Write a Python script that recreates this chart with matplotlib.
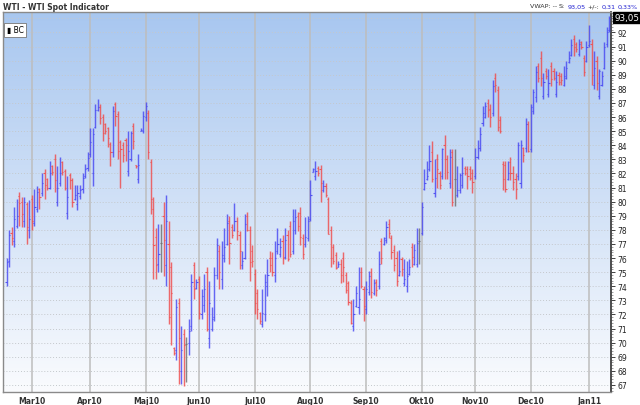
import numpy as np
import pandas as pd
import matplotlib
matplotlib.use('Agg')
import matplotlib.pyplot as plt
from matplotlib.ticker import MultipleLocator

# month labels on the time axis (Danish/Norwegian style)
month_labels = ['Mar10', 'Apr10', 'Maj10', 'Jun10', 'Jul10', 'Aug10',
                'Sep10', 'Okt10', 'Nov10', 'Dec10', 'Jan11']

# daily OHLC, one line per month (Feb 15 2010 .. Jan 13 2011)
open_ = [
    74.3, 75.8, 77.8, 77.2, 78.3, 80.4, 80.0, 78.6, 79.8, 78.0,
    80.2, 78.5, 79.5, 80.9, 80.6, 82.0, 81.6, 81.0, 82.5, 83.0, 80.0, 81.3, 82.8, 82.2, 79.2, 81.9, 81.5, 80.2, 79.8, 80.4, 80.9, 81.8, 82.4,
    83.4, 82.0, 85.3, 86.5, 86.7, 86.0, 85.5, 85.2, 84.1, 83.5, 86.9, 86.2, 84.2, 84.0, 84.4, 82.2, 83.0, 85.4, 82.6, 81.6, 85.0, 85.0,
    86.0, 86.3, 82.8, 79.5, 77.5, 75.6, 77.1, 79.0, 75.5, 77.0, 75.4, 69.6, 69.5, 72.8, 68.0, 70.6, 69.9, 70.0, 71.2, 75.5, 73.9,
    74.5, 72.0, 72.7, 75.0, 70.3, 71.0, 71.8, 74.8, 76.5, 74.5, 76.0, 77.0, 78.6, 78.2, 78.0, 78.6, 77.6, 75.5, 76.0, 79.0, 78.0, 76.5,
    74.9, 73.5, 72.1, 71.3, 72.0, 74.0, 76.0, 76.0, 74.8, 76.5, 76.3, 77.2, 76.1, 77.6, 78.3, 76.5, 78.0, 79.0, 79.2, 77.4, 77.0, 77.4,
    78.8, 82.1, 81.8, 82.4, 82.3, 80.8, 81.1, 80.2, 78.0, 76.8, 76.2, 75.4, 75.6, 76.0, 74.8, 74.2, 72.8, 71.2, 72.6, 72.5, 75.0, 73.8,
    72.4, 73.6, 75.0, 73.5, 74.3, 74.0, 77.2, 77.0, 77.3, 78.4, 77.4, 76.6, 76.0, 74.8, 75.9, 74.2, 74.0, 74.9, 76.8, 75.6, 75.6, 77.2,
    77.8, 80.9, 81.6, 82.3, 83.5, 80.6, 83.0, 82.0, 81.8, 84.0, 83.0, 81.3, 83.5, 81.6, 80.5, 80.8, 81.2, 82.4, 82.3, 82.3, 82.0,
    81.8, 83.2, 83.8, 85.6, 86.0, 87.0, 86.6, 86.3, 88.8, 87.9, 85.8, 82.7, 82.6, 81.6, 82.8, 82.0, 81.6, 81.8, 81.3, 83.8, 83.8, 85.5,
    83.7, 86.4, 87.4, 89.6, 90.2, 87.5, 89.3, 87.6, 89.6, 89.3, 87.6, 89.0, 88.9, 88.3, 88.8, 89.9, 90.4, 91.5, 91.2, 90.5, 91.3, 90.2, 90.0,
    91.1, 91.2, 88.3, 90.0, 87.5, 88.3, 89.5, 91.2, 92.2,
]
high = [
    76.0, 78.0, 78.2, 79.6, 80.2, 80.7, 80.3, 80.3, 80.0, 80.1,
    80.5, 80.9, 81.1, 81.0, 82.0, 82.3, 81.7, 82.9, 82.6, 83.4, 82.5, 83.2, 82.9, 82.3, 81.8, 82.0, 81.7, 81.2, 81.2, 81.2, 82.0, 82.7, 83.5,
    85.2, 85.2, 86.9, 87.3, 86.9, 86.2, 85.6, 85.3, 84.2, 86.8, 87.1, 86.4, 84.4, 84.2, 84.5, 85.0, 85.0, 85.6, 82.6, 83.4, 85.2, 86.4,
    87.1, 86.5, 83.0, 80.3, 78.1, 78.4, 78.4, 80.0, 80.5, 78.6, 75.7, 69.7, 73.1, 73.2, 71.2, 71.0, 70.4, 71.7, 74.9, 75.7, 74.5,
    74.7, 73.8, 74.9, 75.4, 74.4, 72.5, 75.4, 77.4, 76.9, 77.2, 78.1, 79.1, 79.0, 78.4, 79.9, 78.9, 77.9, 76.5, 79.1, 79.3, 78.3, 76.9,
    75.2, 73.8, 72.2, 73.8, 74.9, 75.9, 76.5, 76.4, 77.2, 78.1, 77.4, 77.6, 78.1, 78.0, 78.6, 79.5, 79.5, 79.3, 79.6, 77.7, 78.9, 79.0,
    81.5, 82.4, 82.9, 82.5, 82.6, 81.5, 81.3, 80.3, 78.3, 77.0, 76.4, 75.8, 75.9, 76.4, 75.0, 74.4, 73.0, 73.1, 74.0, 75.4, 75.4, 74.0,
    74.4, 75.1, 75.3, 74.5, 74.5, 76.5, 77.4, 77.5, 78.6, 78.8, 77.6, 76.9, 76.5, 76.6, 76.1, 75.9, 75.8, 75.9, 77.1, 77.0, 78.1, 78.1,
    80.0, 82.3, 82.9, 84.0, 84.3, 83.0, 83.4, 82.2, 83.8, 84.7, 83.3, 83.7, 83.7, 83.7, 82.5, 82.0, 83.2, 82.5, 82.5, 82.5, 82.3,
    83.8, 84.4, 85.3, 86.8, 87.1, 87.3, 86.9, 88.6, 89.1, 88.2, 86.1, 82.9, 82.9, 82.9, 83.2, 82.5, 82.0, 84.2, 84.4, 83.9, 85.9, 85.7,
    86.9, 88.0, 89.6, 89.8, 90.7, 89.1, 89.5, 89.4, 89.9, 89.5, 89.3, 89.2, 89.1, 89.6, 90.0, 90.7, 91.5, 91.8, 91.3, 91.5, 91.4, 90.4, 91.4,
    92.5, 91.5, 90.7, 90.3, 89.4, 89.3, 91.3, 92.4, 93.2,
]
low = [
    74.0, 75.4, 76.9, 76.8, 78.1, 78.3, 78.2, 78.2, 77.0, 77.4,
    78.0, 78.3, 79.3, 79.5, 80.4, 80.2, 80.8, 80.9, 81.9, 80.7, 79.7, 81.1, 81.9, 80.8, 78.8, 80.9, 79.6, 80.1, 79.4, 80.2, 80.6, 81.7, 82.2,
    83.2, 81.1, 85.2, 86.4, 85.5, 84.3, 84.8, 83.9, 82.5, 83.2, 85.4, 83.0, 81.0, 82.8, 82.9, 81.8, 82.9, 83.7, 82.4, 81.3, 85.0, 84.9,
    85.7, 83.0, 79.1, 74.5, 74.5, 75.0, 75.0, 74.7, 74.0, 71.3, 69.8, 69.1, 68.8, 67.1, 67.1, 66.9, 67.2, 69.1, 70.8, 73.1, 73.8,
    71.7, 71.7, 72.2, 70.8, 69.6, 70.8, 71.5, 74.5, 73.8, 73.8, 75.7, 76.9, 75.6, 77.4, 77.9, 77.3, 75.2, 75.2, 75.9, 77.9, 74.4, 75.4,
    72.0, 71.7, 71.3, 71.1, 71.5, 73.3, 75.0, 74.7, 74.3, 76.3, 76.1, 75.6, 75.9, 75.8, 76.1, 76.3, 77.7, 77.9, 76.9, 75.9, 76.8, 77.2,
    78.6, 82.1, 81.5, 81.8, 80.0, 80.7, 80.3, 77.7, 75.4, 75.6, 75.2, 75.4, 74.2, 74.3, 73.5, 72.7, 71.3, 70.8, 72.5, 72.0, 73.9, 71.5,
    72.0, 73.4, 73.2, 73.4, 73.3, 73.8, 75.6, 76.9, 77.1, 77.4, 75.9, 75.1, 74.0, 74.7, 74.7, 74.0, 73.6, 74.8, 75.4, 75.5, 75.4, 75.6,
    77.6, 80.8, 81.5, 82.2, 81.4, 80.3, 81.0, 80.9, 81.6, 81.6, 81.6, 81.0, 79.7, 79.7, 80.3, 80.6, 81.0, 81.9, 80.9, 81.5, 80.6,
    81.6, 83.0, 83.6, 85.4, 85.9, 86.0, 85.3, 86.1, 87.8, 85.0, 84.9, 80.8, 80.7, 81.5, 81.5, 80.8, 80.2, 81.5, 81.0, 82.8, 83.5, 83.5,
    83.5, 86.2, 87.1, 88.5, 88.2, 87.3, 88.7, 87.4, 88.2, 88.6, 87.4, 88.3, 88.3, 88.2, 88.7, 89.8, 90.3, 90.3, 90.6, 90.3, 90.8, 88.9, 89.9,
    91.0, 88.3, 88.0, 87.9, 87.3, 88.2, 89.4, 91.0, 92.0,
]
close = [
    75.7, 77.6, 77.4, 78.8, 79.0, 79.9, 79.1, 80.0, 78.2, 78.8,
    78.6, 79.6, 80.7, 80.3, 81.3, 81.2, 81.0, 82.0, 82.1, 81.5, 81.0, 82.0, 82.1, 81.0, 80.3, 81.5, 80.0, 80.5, 80.6, 80.8, 81.7, 82.3, 83.1,
    84.2, 84.8, 86.5, 86.7, 85.9, 84.9, 85.0, 84.5, 83.5, 86.4, 86.1, 83.6, 83.7, 83.3, 84.0, 83.6, 84.9, 84.3, 82.5, 82.6, 85.1, 86.1,
    86.8, 83.5, 80.2, 76.9, 75.5, 76.3, 77.1, 77.3, 78.6, 71.8, 73.5, 69.3, 72.5, 70.3, 69.5, 69.8, 69.9, 70.8, 74.3, 73.8, 74.3,
    72.1, 73.3, 73.8, 71.0, 72.8, 71.7, 74.8, 76.9, 75.0, 76.2, 76.8, 78.5, 77.1, 77.6, 78.6, 77.9, 76.5, 75.8, 78.4, 78.0, 75.7, 75.8,
    72.8, 72.4, 71.5, 72.1, 74.3, 74.8, 75.5, 75.0, 76.0, 77.0, 76.8, 76.0, 77.3, 75.9, 76.3, 78.6, 78.9, 78.3, 77.5, 76.3, 77.5, 78.6,
    80.5, 82.3, 82.2, 82.0, 81.3, 81.1, 80.5, 77.7, 76.0, 75.8, 75.3, 75.6, 74.8, 75.4, 73.7, 72.9, 71.4, 72.0, 73.5, 73.1, 74.0, 72.6,
    73.8, 74.7, 73.6, 74.2, 73.7, 75.6, 76.0, 77.4, 78.2, 77.8, 76.4, 75.5, 74.4, 75.1, 75.2, 74.5, 74.7, 75.4, 76.1, 76.6, 77.1, 77.2,
    79.6, 81.3, 81.8, 82.9, 81.6, 81.7, 82.3, 81.2, 83.7, 83.0, 82.1, 83.2, 80.0, 81.6, 80.8, 81.9, 82.0, 82.0, 81.8, 81.7, 81.4,
    83.2, 83.8, 84.8, 86.3, 86.8, 86.5, 86.0, 88.2, 88.3, 85.3, 85.0, 81.6, 80.9, 82.0, 82.0, 81.4, 80.9, 84.0, 84.0, 83.3, 85.5, 83.6,
    86.7, 87.8, 89.2, 88.8, 88.8, 88.5, 88.9, 88.4, 88.7, 88.8, 88.5, 88.5, 88.6, 88.9, 89.5, 90.2, 91.1, 91.0, 90.8, 91.2, 91.0, 89.2, 91.0,
    91.4, 89.0, 89.5, 88.4, 89.3, 88.9, 91.0, 92.0, 93.05,
]

n = len(close)
dates = pd.bdate_range('2010-02-15', periods=n)
x = np.arange(n)
month_starts = [i for i in range(1, n) if dates[i].month != dates[i - 1].month]

o = np.array(open_)
c = np.array(close)
colors = np.where(c > o, '#4848f2', np.where(c < o, '#ef4c4c', '#6e6e6e'))

fig = plt.figure(figsize=(6.4, 4.06), dpi=100)
ax = fig.add_axes([3 / 640, 13 / 406, 608 / 640, 380 / 406])

# blue-to-white background gradient
top = np.array([0.66, 0.78, 0.94])
bottom = np.array([0.98, 0.985, 0.995])
t = np.linspace(0, 1, 256)[:, None]
grad = (top * (1 - t) + bottom * t)[:, None, :]
ax.imshow(grad, extent=[0, 1, 0, 1], transform=ax.transAxes, aspect='auto', zorder=0)

# grid
for yv in range(67, 94):
    ax.axhline(yv, color='#c4c8cc', lw=0.7, ls=(0, (1, 2)), zorder=1)
for i in month_starts:
    ax.axvline(i, color='#bdbdbd', lw=1.1, zorder=1)

# OHLC bars
ax.vlines(x, low, high, colors=colors, lw=1.05, alpha=0.82, zorder=3)
ax.hlines(open_, x - 0.45, x, colors=colors, lw=0.8, alpha=0.9, zorder=3)
ax.hlines(close, x, x + 0.45, colors=colors, lw=0.8, alpha=0.9, zorder=3)

ax.set_xlim(-1.4, n - 0.3)
ax.set_ylim(66.5, 93.45)

ax.yaxis.tick_right()
ax.set_yticks(range(67, 93))
ax.yaxis.set_minor_locator(MultipleLocator(0.2))
ax.tick_params(axis='y', which='major', labelsize=5.5, length=3, width=0.6, pad=1.5, colors='#222222')
ax.tick_params(axis='y', which='minor', length=1.5, width=0.4, colors='#555555')
ax.set_xticks(month_starts)
ax.set_xticklabels(month_labels, fontsize=5.5, fontweight='bold', color='#333333')
ax.tick_params(axis='x', length=0, pad=3)

for side in ['left', 'top', 'bottom']:
    ax.spines[side].set_color('#8a8a8a')
    ax.spines[side].set_linewidth(1.0)
ax.spines['right'].set_color('#404040')
ax.spines['right'].set_linewidth(1.3)

# last price marker
ax.annotate('93,05', xy=(1.0, close[-1]), xycoords=('axes fraction', 'data'),
            xytext=(2.2, 0), textcoords='offset points', ha='left', va='center',
            fontsize=6.3, color='white',
            bbox=dict(boxstyle='square,pad=0.12', fc='black', ec='black'))

# legend box
ax.text(0.006, 0.965, '\u25AE BC', transform=ax.transAxes, fontsize=5.5, ha='left', va='top',
        bbox=dict(boxstyle='square,pad=0.3', fc='white', ec='#777777', lw=0.6), zorder=5)

# header texts
hy = 1 - 7 / 406
fig.text(3 / 640, hy, 'WTI - WTI Spot Indicator', fontsize=5.5, fontweight='bold',
         color='#333333', ha='left', va='center')

# right-hand status line, chained right-to-left
pieces = [('VWAP: --', '#333333'), ('S:', '#333333'), ('93,05', '#2020d0'),
          ('+/-:', '#333333'), ('0,31', '#2020d0'), ('0,33%', '#2020d0')]
prev = fig.text(638 / 640, hy, pieces[-1][0], fontsize=4.6, color=pieces[-1][1],
                ha='right', va='center')
for txt, col in reversed(pieces[:-1]):
    prev = fig.add_artist(plt.Annotation(txt, xy=(0, 0.5), xycoords=prev,
                                         xytext=(-1.6, 0), textcoords='offset points',
                                         ha='right', va='center', fontsize=4.6, color=col))

fig.savefig('out.png', dpi=100)
